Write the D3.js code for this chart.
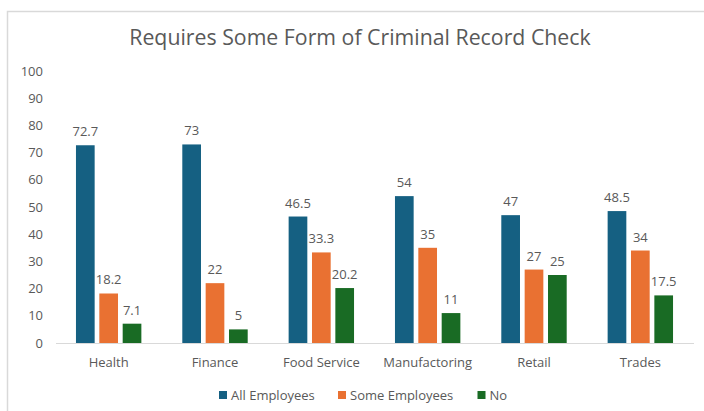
<!DOCTYPE html>
<html>
<head>
<meta charset="utf-8">
<script src="https://cdn.jsdelivr.net/npm/d3@7"></script>
<style>
  html, body { margin: 0; padding: 0; background: #fff; }
  svg { display: block; font-family: "Open Sans", "Noto Sans", sans-serif; }
</style>
</head>
<body>
<svg id="chart" width="704" height="411"></svg>
<script>
const categories = ["Health", "Finance", "Food Service", "Manufactoring", "Retail", "Trades"];
const seriesNames = ["All Employees", "Some Employees", "No"];
const allEmployees  = [72.7, 73, 46.5, 54, 47, 48.5];
const someEmployees = [18.2, 22, 33.3, 35, 27, 34];
const noCheck       = [7.1, 5, 20.2, 11, 25, 17.5];
const yTicks = [0, 10, 20, 30, 40, 50, 60, 70, 80, 90, 100];
const colors = ["#156082", "#E97132", "#196B24"];

const series = [allEmployees, someEmployees, noCheck];
const rows = categories.map((c, i) => ({
  category: c,
  values: seriesNames.map((s, k) => ({ key: s, value: series[k][i] }))
}));

const svg = d3.select("#chart");
const margin = { left: 55.5, right: 10.5, top: 71, bottom: 68 };
const W = 704, H = 411;

// chart frame
svg.append("rect")
  .attr("x", 7.5).attr("y", 11.5)
  .attr("width", 720).attr("height", 440)
  .attr("fill", "none").attr("stroke", "#d9d9d9").attr("stroke-width", 1.5);

const x0 = d3.scaleBand()
  .domain(categories)
  .range([margin.left, W - margin.right])
  .paddingInner(0.385).paddingOuter(0.1925);

const x1 = d3.scaleBand()
  .domain(seriesNames)
  .range([0, x0.bandwidth()])
  .paddingInner(0.2);

const y = d3.scaleLinear()
  .domain([0, 100])
  .range([H - margin.bottom, margin.top]);

const color = d3.scaleOrdinal().domain(seriesNames).range(colors);

// title
svg.append("text")
  .attr("x", 360).attr("y", 45)
  .attr("text-anchor", "middle")
  .attr("font-size", 21.3)
  .attr("fill", "#595959")
  .text("Requires Some Form of Criminal Record Check");

// y axis (labels only)
const yAxis = d3.axisLeft(y).tickValues(yTicks).tickSize(0).tickPadding(0);
const yg = svg.append("g")
  .attr("transform", `translate(43,0)`)
  .call(yAxis);
yg.select(".domain").remove();
yg.selectAll("text")
  .attr("font-size", 13).attr("fill", "#595959")
  .attr("font-family", "'Open Sans', sans-serif");

// bars
const groups = svg.append("g").selectAll("g")
  .data(rows).join("g")
  .attr("transform", d => `translate(${x0(d.category)},0)`);

groups.selectAll("rect")
  .data(d => d.values).join("rect")
  .attr("x", d => x1(d.key))
  .attr("y", d => y(d.value))
  .attr("width", x1.bandwidth())
  .attr("height", d => y(0) - y(d.value))
  .attr("fill", d => color(d.key));

groups.selectAll("text")
  .data(d => d.values).join("text")
  .attr("x", d => x1(d.key) + x1.bandwidth() / 2)
  .attr("y", d => y(d.value) - 9)
  .attr("text-anchor", "middle")
  .attr("font-size", 13)
  .attr("fill", "#595959")
  .text(d => d.value);

// x axis
const xAxis = d3.axisBottom(x0).tickSize(0).tickPadding(0);
const xg = svg.append("g")
  .attr("transform", `translate(0,${y(0)})`)
  .call(xAxis);
xg.select(".domain").attr("stroke", "#d9d9d9").attr("stroke-width", 1.2);
xg.selectAll("text")
  .attr("dy", 0).attr("y", 24)
  .attr("font-size", 13).attr("fill", "#595959")
  .attr("font-family", "'Open Sans', sans-serif");

// legend
const legendX = [219, 338, 477.5];
const legend = svg.append("g").selectAll("g")
  .data(seriesNames).join("g")
  .attr("transform", (d, i) => `translate(${legendX[i]},395)`);
legend.append("rect")
  .attr("x", 0).attr("y", -4).attr("width", 8).attr("height", 8)
  .attr("fill", d => color(d));
legend.append("text")
  .attr("x", 12).attr("y", 4.5)
  .attr("font-size", 13).attr("fill", "#595959")
  .text(d => d);
</script>
</body>
</html>
